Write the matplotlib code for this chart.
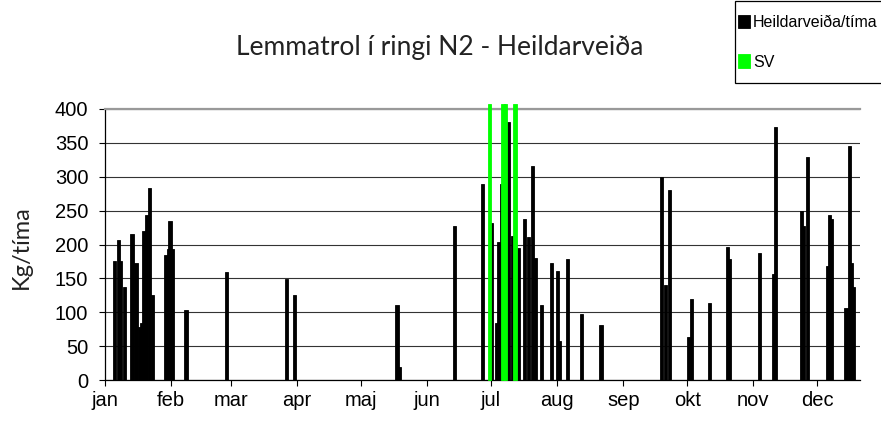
import numpy as np
import matplotlib.pyplot as plt
from matplotlib.patches import Rectangle

# day of year (0 = 1. jan) and catch per hour
dagur = [4.3, 6.2, 7.0, 9.0, 12.7, 14.5, 16.4, 17.0, 18.3, 19.3, 21.0, 22.3,
         28.6, 29.6, 30.5, 31.5, 38.0,
         57.0, 85.2, 88.8, 136.9, 137.9,
         164.0, 177.0, 181.2, 183.6, 184.6, 186.0, 189.0, 190.9, 193.8, 196.8,
         198.4, 200.6, 201.7, 204.5, 209.2, 212.0, 212.9, 216.7, 223.3, 232.6,
         260.8, 262.7, 264.6, 273.7, 274.9, 283.4, 291.8, 292.7,
         306.9, 313.4, 314.4, 326.6, 327.5, 329.4, 338.8, 339.7, 340.6,
         347.4, 349.1, 350.0, 351.0]
heildarveida = [175, 207, 175, 137, 216, 172, 78, 84, 220, 243, 284, 125,
                184, 193, 234, 193, 104,
                160, 149, 125, 110, 19,
                228, 290, 231, 84, 204, 290, 381, 213, 195, 237,
                211, 316, 180, 110, 172, 161, 57, 178, 98, 81,
                299, 140, 281, 63, 119, 113, 196, 178,
                187, 157, 373, 249, 228, 329, 169, 243, 237,
                107, 346, 172, 137]

sv_dagur = [180.2, 186.6, 187.6, 192.2]
sv = [408, 408, 408, 408]

manudir = ['jan', 'feb', 'mar', 'apr', 'maj', 'jun', 'jul', 'aug', 'sep', 'okt', 'nov', 'dec']
manudur_byrjun = [0, 31, 59, 90, 120, 151, 181, 212, 243, 273, 304, 334]

fig = plt.figure(figsize=(8.81, 4.24), dpi=100)
ax = fig.add_axes([105 / 881, 44 / 424, 755 / 881, 271 / 424])

b1 = ax.bar(dagur, heildarveida, width=1.5, color='black', edgecolor='black', lw=0.6, zorder=3)
b2 = ax.bar(sv_dagur, sv, width=1.5, color='#00ff00', edgecolor='#00ff00', lw=0.6, zorder=4,
            clip_on=False)

ax.set_xlim(0, 354)
ax.set_ylim(0, 400)
ax.set_yticks(np.arange(0, 401, 50))
ax.set_xticks(manudur_byrjun)
ax.set_xticklabels(manudir)
ax.tick_params(axis='both', labelsize=14.5, direction='out', length=4, width=0.8)
for t in ax.get_xticklabels() + ax.get_yticklabels():
    t.set_fontfamily('Liberation Sans')
ax.tick_params(axis='x', pad=4)
ax.tick_params(axis='y', pad=8)

ax.grid(axis='y', color='#333333', lw=0.8, zorder=0)
ax.spines['right'].set_visible(False)
ax.spines['top'].set_color('#999999')
ax.spines['top'].set_linewidth(1.6)
ax.spines['left'].set_linewidth(0.9)
ax.spines['bottom'].set_linewidth(0.9)

ax.set_ylabel('Kg/tíma', family='Lato', size=17, color='#222222')
ax.yaxis.set_label_coords(-73 / 755, 0.49)

fig.text(440 / 881, 1 - 47 / 424, 'Lemmatrol í ringi N2 - Heildarveiða', family='Lato',
         size=19, ha='center', va='center', color='#222222')

# legend box, cut off at the right edge like in the original
fig.patches.append(Rectangle((735 / 881, 1 - 83 / 424), 160 / 881, 82 / 424,
                             transform=fig.transFigure, facecolor='white',
                             edgecolor='black', lw=0.9, zorder=5))
leg = fig.legend([b1, b2], ['Heildarveiða/tíma', 'SV'], loc='upper left',
                 bbox_to_anchor=(736 / 881, 1 - 13 / 424), borderaxespad=0,
                 prop={'family': 'Liberation Sans', 'size': 11.5}, frameon=False,
                 handlelength=0.75, handleheight=0.9, handletextpad=0.2,
                 labelspacing=1.55, borderpad=0.1)
leg.set_zorder(6)

plt.savefig('out.png', dpi=100)
